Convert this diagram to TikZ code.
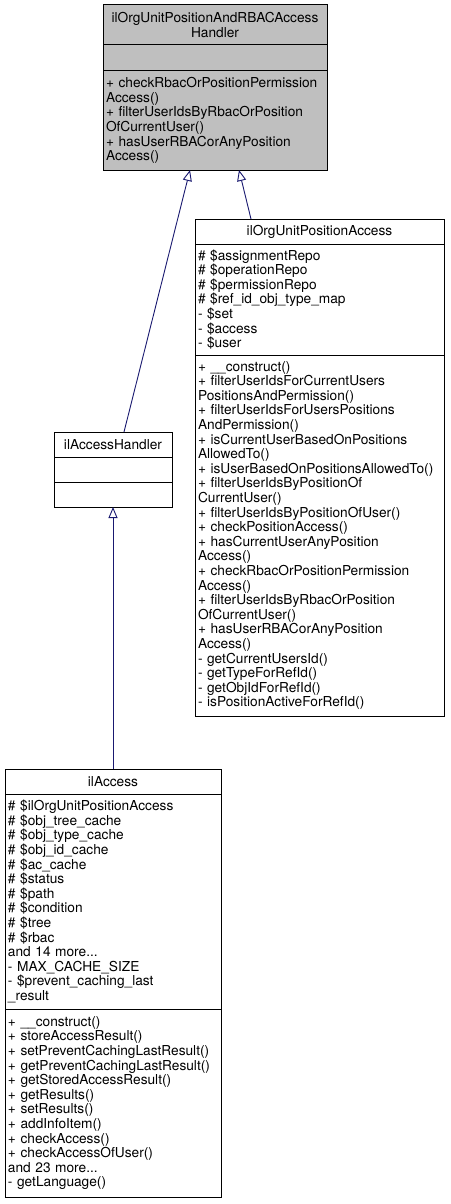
\documentclass[tikz,border=0pt]{standalone}
\usepackage{fontspec}
\setmainfont{TeX Gyre Heros}
\usepackage{xcolor}
\usepackage{tikz}
\usetikzlibrary{arrows.meta}

\definecolor{edgeblue}{HTML}{191970}
\definecolor{basegray}{HTML}{BFBFBF}
\hyphenpenalty=10000
\exhyphenpenalty=10000

\tikzset{
  compart/.style={draw=black, line width=1pt, fill=white, anchor=north west,
    inner xsep=3pt, inner ysep=0pt, outer sep=0pt, align=left,
    font=\fontsize{13.7}{14.6}\selectfont},
  ctitle/.style={compart, align=center, minimum height=25pt},
  genarrow/.style={draw=edgeblue, line width=0.9pt,
    -{Triangle[open, length=11pt, width=9pt]}}
}

\begin{document}
\begin{tikzpicture}[x=1pt, y=-1pt]
\useasboundingbox[fill=white] (0,0) rectangle (450,1204);

% Base class (highlighted)
\node[ctitle, fill=basegray, text width=218pt, minimum height=40pt] (baseT) at (103,5)
  {ilOrgUnitPositionAndRBACAccess\\Handler};
\node[compart, fill=basegray, text width=218pt, minimum height=26pt] (baseA) at (baseT.south west) {};
\node[compart, fill=basegray, text width=218pt, minimum height=99pt] (baseM) at (baseA.south west)
  {+ checkRbacOrPositionPermission\\Access()\\+ filterUserIdsByRbacOrPosition\\OfCurrentUser()\\+ hasUserRBACorAnyPosition\\Access()};

% ilAccessHandler
\node[ctitle, text width=112pt] (handT) at (54,432) {ilAccessHandler};
\node[compart, text width=112pt, minimum height=25pt] (handA) at (handT.south west) {};
\node[compart, text width=112pt, minimum height=25pt] (handM) at (handA.south west) {};

% ilOrgUnitPositionAccess
\node[ctitle, text width=243pt] (posT) at (195,219) {ilOrgUnitPositionAccess};
\node[compart, text width=243pt, minimum height=111pt] (posA) at (posT.south west)
  {\# \$assignmentRepo\\\# \$operationRepo\\\# \$permissionRepo\\\# \$ref\_id\_obj\_type\_map\\- \$set\\- \$access\\- \$user};
\node[compart, text width=243pt, minimum height=361pt] (posM) at (posA.south west)
  {+ \_\_construct()\\
   + filterUserIdsForCurrentUsers\\PositionsAndPermission()\\
   + filterUserIdsForUsersPositions\\AndPermission()\\
   + isCurrentUserBasedOnPositions\\AllowedTo()\\
   + isUserBasedOnPositionsAllowedTo()\\
   + filterUserIdsByPositionOf\\CurrentUser()\\
   + filterUserIdsByPositionOfUser()\\
   + checkPositionAccess()\\
   + hasCurrentUserAnyPosition\\Access()\\
   + checkRbacOrPositionPermission\\Access()\\
   + filterUserIdsByRbacOrPosition\\OfCurrentUser()\\
   + hasUserRBACorAnyPosition\\Access()\\
   - getCurrentUsersId()\\
   - getTypeForRefId()\\
   - getObjIdForRefId()\\
   - isPositionActiveForRefId()};

% ilAccess
\node[ctitle, text width=210pt] (accT) at (5,769) {ilAccess};
\node[compart, text width=210pt, minimum height=215pt] (accA) at (accT.south west)
  {\# \$ilOrgUnitPositionAccess\\
   \# \$obj\_tree\_cache\\
   \# \$obj\_type\_cache\\
   \# \$obj\_id\_cache\\
   \# \$ac\_cache\\
   \# \$status\\
   \# \$path\\
   \# \$condition\\
   \# \$tree\\
   \# \$rbac\\
   and 14 more...\\
   - MAX\_CACHE\_SIZE\\
   - \$prevent\_caching\_last\\
   \_result};
\node[compart, text width=210pt, minimum height=188pt] (accM) at (accA.south west)
  {+ \_\_construct()\\
   + storeAccessResult()\\
   + setPreventCachingLastResult()\\
   + getPreventCachingLastResult()\\
   + getStoredAccessResult()\\
   + getResults()\\
   + setResults()\\
   + addInfoItem()\\
   + checkAccess()\\
   + checkAccessOfUser()\\
   and 23 more...\\
   - getLanguage()};

% Inheritance edges
\draw[genarrow] ([xshift=11pt]handT.north) -- ([xshift=-25pt]baseM.south);
\draw[genarrow] ([xshift=-68.5pt]posT.north) -- ([xshift=24pt]baseM.south);
\draw[genarrow] (accT.north) -- (handM.south);
\end{tikzpicture}
\end{document}
